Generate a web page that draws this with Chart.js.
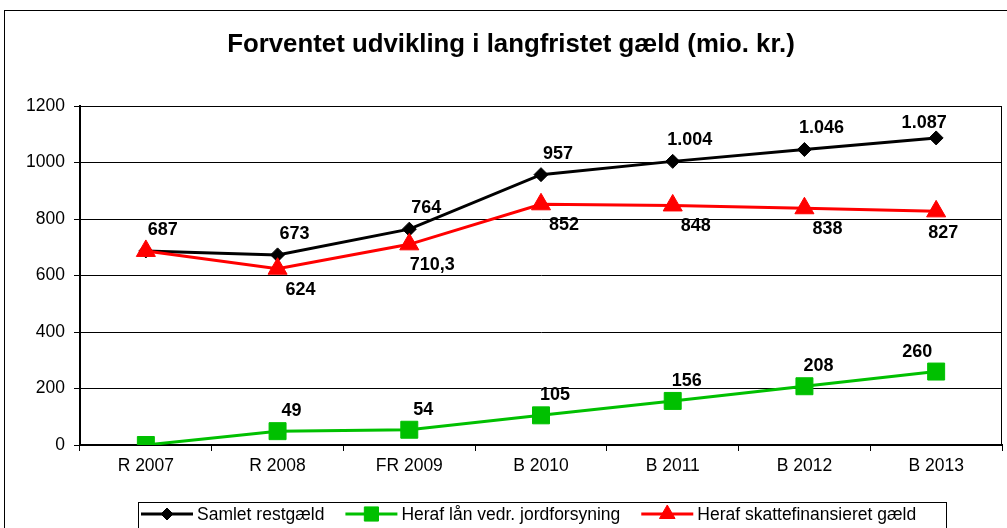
<!DOCTYPE html>
<html>
<head>
<meta charset="utf-8">
<script src="https://cdn.jsdelivr.net/npm/chart.js@4/dist/chart.umd.min.js"></script>
<style>
html,body{margin:0;padding:0;background:#fff;}
#wrap{width:1007px;height:528px;position:relative;}
</style>
</head>
<body>
<div id="wrap"><canvas id="c" width="1007" height="528"></canvas></div>
<script>
const categories = ['R 2007','R 2008','FR 2009','B 2010','B 2011','B 2012','B 2013'];
const samletRestgaeld = [687, 673, 764, 957, 1004, 1046, 1087];
const jordforsyning = [0, 49, 54, 105, 156, 208, 260];
const skattefinansieret = [687, 624, 710.3, 852, 848, 838, 827];
const showSamletLabel = [true, true, true, true, true, true, true];
const showJordLabel = [false, true, true, true, true, true, true];
const showSkatLabel = [false, true, true, true, true, true, true];
const yTicks = [0, 200, 400, 600, 800, 1000, 1200];
const seriesNames = ['Samlet restgæld', 'Heraf lån vedr. jordforsyning', 'Heraf skattefinansieret gæld'];
const titleText = 'Forventet udvikling i langfristet gæld (mio. kr.)';

const FONT = '"Liberation Sans", Arial, sans-serif';

function fmtDa(v){
  const neg = v < 0; v = Math.abs(v);
  let [ip, dp] = String(v).split('.');
  ip = ip.replace(/\B(?=(\d{3})+(?!\d))/g, '.');
  return (neg?'-':'') + ip + (dp ? ',' + dp : '');
}

// label placement relative to each point (general, and for the last category near the plot edge)
const labelStyle = [
  {dx: 17, dy: -21, lastDx: -12, lastDy: -15, show: showSamletLabel},
  {dx: 14, dy: -20, lastDx: -19, lastDy: -20, show: showJordLabel},
  {dx: 23, dy: 21, lastDx: 7, lastDy: 22, show: showSkatLabel}
];

const framePlugin = {
  id: 'frame',
  beforeDraw(chart){
    const ctx = chart.ctx;
    ctx.save();
    ctx.fillStyle = '#fff';
    ctx.fillRect(0,0,chart.width,chart.height);
    ctx.strokeStyle = '#000';
    ctx.lineWidth = 1;
    ctx.strokeRect(4.5, 10.5, chart.width + 10, chart.height + 10);
    ctx.font = 'bold 25.8px ' + FONT;
    ctx.fillStyle = '#000';
    ctx.textAlign = 'center';
    ctx.textBaseline = 'alphabetic';
    ctx.fillText(titleText, 511, 52);
    ctx.restore();
  },
  afterDraw(chart){
    const ctx = chart.ctx;
    const a = chart.chartArea;
    ctx.save();
    ctx.strokeStyle = '#000';
    ctx.lineWidth = 1;
    ctx.beginPath();
    ctx.moveTo(a.left, a.top + 0.5);
    ctx.lineTo(a.right - 0.5, a.top + 0.5);
    ctx.lineTo(a.right - 0.5, a.bottom);
    ctx.stroke();
    const lx = 138.5, ly = 502.5, lw = 808, lh = 32;
    ctx.strokeRect(lx, ly, lw, lh);
    ctx.font = '17.5px ' + FONT;
    ctx.textBaseline = 'middle';
    ctx.textAlign = 'left';
    const cy = 514;
    const legendRadius = [6, 10, 9];
    let x0 = 141;
    chart.data.datasets.forEach((ds, i) => {
      ctx.strokeStyle = ds.borderColor;
      ctx.lineWidth = 3;
      ctx.beginPath(); ctx.moveTo(x0, cy); ctx.lineTo(x0 + 52, cy); ctx.stroke();
      ctx.fillStyle = ds.borderColor;
      ctx.strokeStyle = ds.borderColor;
      ctx.lineWidth = 1;
      Chart.helpers.drawPoint(ctx, {pointStyle: ds.pointStyle, radius: legendRadius[i], rotation: 0, borderWidth: 1}, x0 + 26, cy);
      ctx.fillStyle = '#000';
      ctx.fillText(seriesNames[i], x0 + 56, cy + 1);
      x0 += 56 + ctx.measureText(seriesNames[i]).width + 21;
    });
    ctx.restore();
  },
  afterDatasetsDraw(chart){
    const ctx = chart.ctx;
    ctx.save();
    ctx.font = 'bold 18px ' + FONT;
    ctx.fillStyle = '#000';
    ctx.textAlign = 'center';
    ctx.textBaseline = 'middle';
    chart.data.datasets.forEach((ds, di) => {
      const meta = chart.getDatasetMeta(di);
      const st = labelStyle[di];
      const last = meta.data.length - 1;
      meta.data.forEach((pt, i) => {
        if (!st.show[i]) return;
        const isLast = i === last;
        const x = pt.x + (isLast ? st.lastDx : st.dx);
        const y = pt.y + (isLast ? st.lastDy : st.dy);
        ctx.fillText(fmtDa(ds.data[i]), x, y);
      });
    });
    ctx.restore();
  }
};

new Chart(document.getElementById('c'), {
  type: 'line',
  data: {
    labels: categories,
    datasets: [
      {label: seriesNames[0], data: samletRestgaeld, borderColor: '#000000', backgroundColor: '#000000',
       borderWidth: 3, pointStyle: 'rectRot', pointRadius: 7, pointBorderWidth: 1, tension: 0, order: 2},
      {label: seriesNames[1], data: jordforsyning, borderColor: '#00C000', backgroundColor: '#00C000',
       borderWidth: 3, pointStyle: 'rect', pointRadius: 12, pointBorderWidth: 1, tension: 0, order: 1},
      {label: seriesNames[2], data: skattefinansieret, borderColor: '#FF0000', backgroundColor: '#FF0000',
       borderWidth: 3, pointStyle: 'triangle', pointRadius: 11, pointBorderWidth: 1, tension: 0, order: 0}
    ]
  },
  options: {
    responsive: false,
    animation: false,
    devicePixelRatio: 1,
    layout: {autoPadding: false, padding: {left: 4, right: 5, top: 106, bottom: 0}},
    plugins: {
      legend: {display: false},
      tooltip: {enabled: false},
      title: {display: false}
    },
    scales: {
      x: {
        offset: true,
        grid: {offset: true, drawOnChartArea: false, color: '#000', tickLength: 6, tickWidth: 1},
        border: {color: '#000', width: 2},
        ticks: {color: '#000', font: {family: FONT, size: 17.5}, padding: 5, maxRotation: 0},
        afterFit(s){ s.height = 83; s.paddingLeft = 0; s.paddingRight = 0; }
      },
      y: {
        min: 0, max: 1200,
        afterBuildTicks(s){ s.ticks = yTicks.map(v => ({value: v})); },
        grid: {color: '#000', lineWidth: 1, tickLength: 6},
        border: {color: '#000', width: 2},
        ticks: {color: '#000', font: {family: FONT, size: 17.5}, padding: 9, callback: v => String(v)},
        afterFit(s){ s.width = 76; s.paddingTop = 0; s.paddingBottom = 0; }
      }
    }
  },
  plugins: [framePlugin]
});
</script>
</body>
</html>
